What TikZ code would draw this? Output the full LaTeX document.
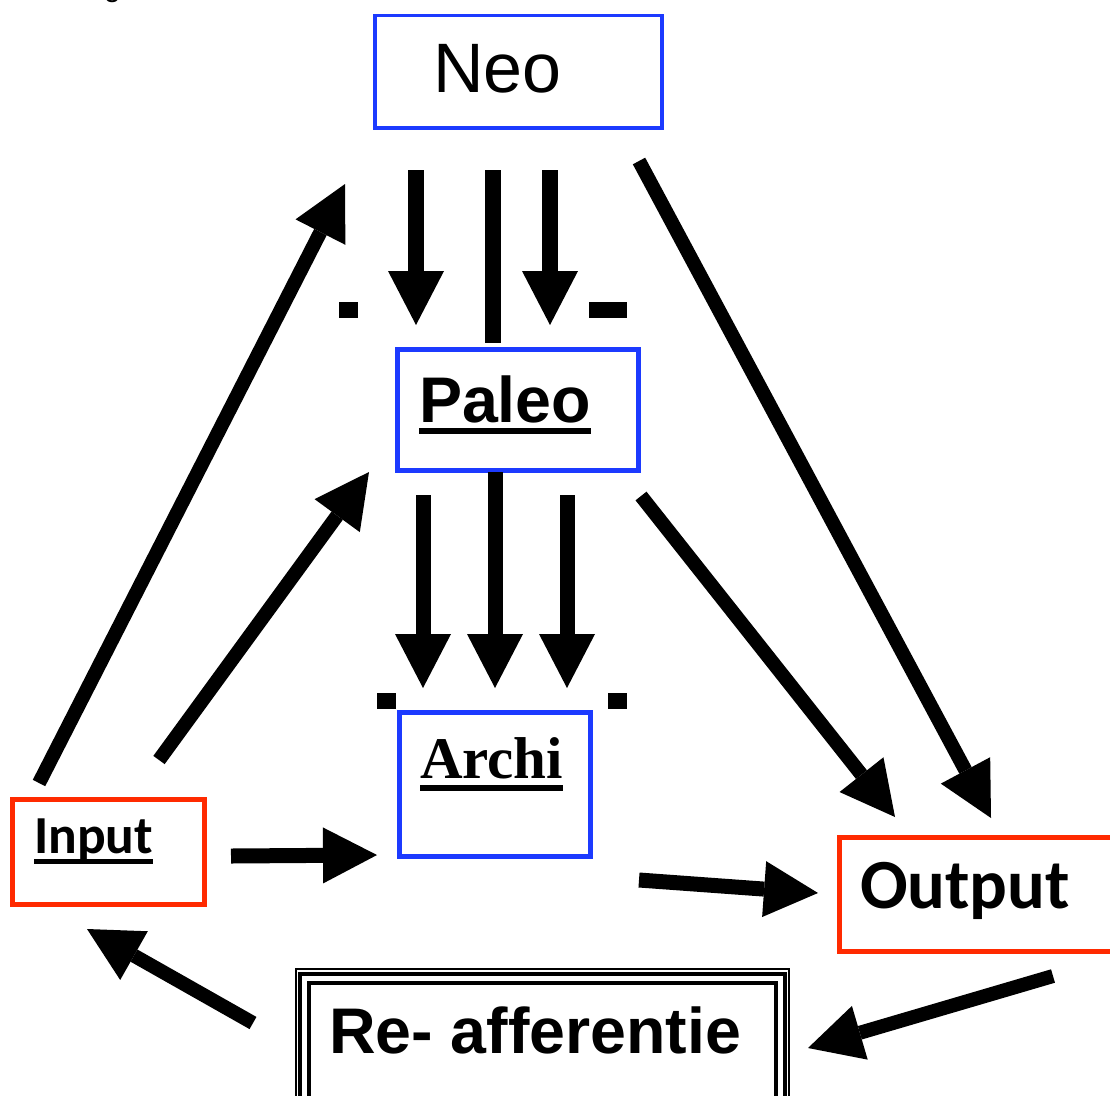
\documentclass[tikz,border=0pt]{standalone}
\usepackage{fontspec}
\setmainfont{Liberation Sans}
\newfontfamily\serifb{Liberation Serif}
\newfontfamily\carl{Carlito}
\usetikzlibrary{arrows.meta,calc}
\definecolor{boxblue}{RGB}{28,58,255}
\definecolor{boxred}{RGB}{255,42,0}
\newcommand\ulword[3]{\setbox0\hbox{#3}\rlap{\copy0}\raisebox{-#1}{\rule{\wd0}{#2}}}
\begin{document}
\begin{tikzpicture}[x=1pt,y=-1pt,
  bluebox/.style={draw=boxblue,line width=5pt,inner sep=0pt,outer sep=0pt},
  redbox/.style={draw=boxred,line width=5pt,inner sep=0pt,outer sep=0pt},
  blackbox/.style={draw=black,line width=1.5pt,inner sep=0pt,outer sep=0pt},
  txt/.style={inner sep=0pt,outer sep=0pt,anchor=base west},
  arr/.style={line width=15pt,-{Triangle[length=54pt,width=56pt,line width=0pt]}},
  bar/.style={line width=16pt}]
\useasboundingbox (0,0) rectangle (1110,1095);
\clip (0,0) rectangle (1110,1095);
% cut-off text at top edge
\node[txt] (topg) at (104,-4) {\fontsize{30}{30}\selectfont g};
% boxes
\node[bluebox,line width=3.5pt,minimum width=287pt,minimum height=112.5pt] (neo) at (518.5,71.75) {};
\node[bluebox,minimum width=241pt,minimum height=121pt] (paleo) at (517.5,410) {};
\node[bluebox,minimum width=191.5pt,minimum height=144pt] (archi) at (494.75,784) {};
\node[redbox,minimum width=192.5pt,minimum height=105pt] (input) at (108.25,851.5) {};
\node[redbox,minimum width=286pt,minimum height=114pt] (output) at (982,894) {};
\node[blackbox,minimum width=493pt,minimum height=151pt] (reaff) at (542.5,1044.5) {};
\draw[line width=4pt] ($(reaff.north west)+(3.5,5)$) rectangle ($(reaff.south east)+(-4,-5)$);
\draw[line width=4pt] ($(reaff.north west)+(13,14)$) rectangle ($(reaff.south east)+(-13,-14)$);
% texts
\node[txt] (neoT) at (433,92) {\fontsize{70}{70}\selectfont Neo};
\node[txt] (paleoT) at (419,422) {\bfseries\fontsize{64.5}{64.5}\selectfont\ulword{12pt}{6pt}{Paleo}};
\node[txt] (archiT) at (420,778) {\serifb\bfseries\fontsize{59}{59}\selectfont\ulword{13pt}{6pt}{Archi}};
\node[txt] (inputT) at (34,853) {\carl\bfseries\fontsize{53.5}{53.5}\selectfont\ulword{11pt}{5pt}{Input}};
\node[txt] (outputT) at (860,908) {\carl\bfseries\fontsize{70.5}{70.5}\selectfont Output};
\node[txt] (reaffT) at (329,1053) {\bfseries\fontsize{64.5}{64.5}\selectfont Re- afferentie};
% small marks
\fill (339,302) rectangle (358,318);
\fill (589,302) rectangle (627,318);
\fill (377,693) rectangle (396,709);
\fill (608,693) rectangle (627,709);
% connector end points
\coordinate (np1s) at (416,170); \coordinate (np1t) at (416,325);
\coordinate (np2s) at (492.5,170); \coordinate (np2t) at (492.5,343);
\coordinate (np3s) at (550,170); \coordinate (np3t) at (550,325);
\coordinate (pa1s) at (423,495); \coordinate (pa1t) at (423,688);
\coordinate (pa2s) at (495,472); \coordinate (pa2t) at (495,688);
\coordinate (pa3s) at (567,495); \coordinate (pa3t) at (567,688);
\coordinate (inneoS) at (39,783); \coordinate (inneoT) at (345,184);
\coordinate (inpalS) at (159,760); \coordinate (inpalT) at (369,472);
\coordinate (neooutS) at (639,161); \coordinate (neooutT) at (991,818);
\coordinate (paloutS) at (641,496); \coordinate (paloutT) at (895,817);
\coordinate (inarS) at (231,856); \coordinate (inarT) at (377,855);
\coordinate (aroutS) at (639,880); \coordinate (aroutT) at (818,893);
\coordinate (outreS) at (1053,976); \coordinate (outreT) at (808,1048);
\coordinate (reinS) at (253,1023); \coordinate (reinT) at (87,929);
% connectors
\draw[arr,line width=16pt] (np1s) -- (np1t);
\draw[bar] (np2s) -- (np2t);
\draw[arr,line width=16pt] (np3s) -- (np3t);
\draw[arr] (pa1s) -- (pa1t);
\draw[arr] (pa2s) -- (pa2t);
\draw[arr] (pa3s) -- (pa3t);
\draw[arr,line width=14pt] (inneoS) -- (inneoT);
\draw[arr,line width=14pt] (inpalS) -- (inpalT);
\draw[arr,line width=14pt] (neooutS) -- (neooutT);
\draw[arr,line width=14pt] (paloutS) -- (paloutT);
\draw[arr] (inarS) -- (inarT);
\draw[arr] (aroutS) -- (aroutT);
\draw[arr,line width=14pt] (outreS) -- (outreT);
\draw[arr,line width=14pt] (reinS) -- (reinT);
\end{tikzpicture}
\end{document}
